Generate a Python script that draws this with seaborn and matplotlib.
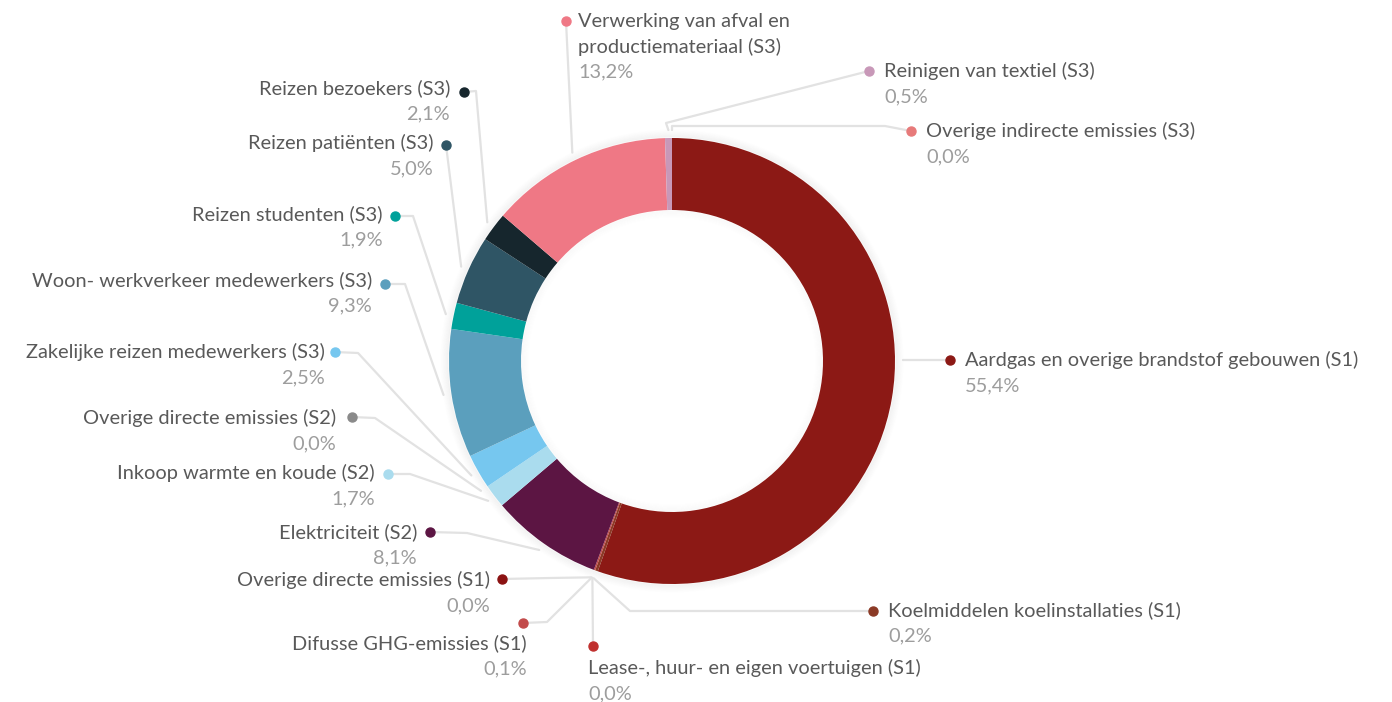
import numpy as np
import matplotlib.pyplot as plt
import seaborn as sns

# data
categories = [
    'Aardgas en overige brandstof gebouwen (S1)',
    'Koelmiddelen koelinstallaties (S1)',
    'Lease-, huur- en eigen voertuigen (S1)',
    'Difusse GHG-emissies (S1)',
    'Overige directe emissies (S1)',
    'Elektriciteit (S2)',
    'Inkoop warmte en koude (S2)',
    'Overige directe emissies (S2)',
    'Zakelijke reizen medewerkers (S3)',
    'Woon- werkverkeer medewerkers (S3)',
    'Reizen studenten (S3)',
    'Reizen patiënten (S3)',
    'Reizen bezoekers (S3)',
    'Verwerking van afval en\nproductiemateriaal (S3)',
    'Reinigen van textiel (S3)',
    'Overige indirecte emissies (S3)',
]
values = [55.4, 0.2, 0.0, 0.1, 0.0, 8.1, 1.7, 0.0, 2.5, 9.3, 1.9, 5.0, 2.1, 13.2, 0.5, 0.0]
colors = ['#8c1915', '#8b3a26', '#c0302e', '#c24a4a', '#8b1212', '#5c1543',
          '#aadcee', '#8a8a8a', '#76c7ef', '#5b9fbd', '#00a19a', '#2f5565',
          '#16262d', '#ef7885', '#c898b8', '#e77a7a']

# label layout (pixel coordinates)
dots = [(950, 360), (873, 611), (593, 646), (523, 623), (502, 579), (430, 532),
        (388, 474), (352, 417), (335, 352), (385, 284), (395, 216), (446, 145),
        (464, 92), (566, 21), (869, 71), (911, 131)]
elbows = [[], [(630, 611)], [], [(547, 622)], [(550, 578)], [(467, 533)],
          [(410, 474)], [(375, 418)], [(358, 353)], [(405, 284)], [(413, 216)], [],
          [(476, 91)], [], [(666, 123)], [(885, 126), (672, 126)]]
text_pos = [(965, 360, 'left'), (888, 610, 'left'), (588, 668, 'left'),
            (527, 643, 'right'), (490, 580, 'right'), (417, 532, 'right'),
            (375, 473, 'right'), (336, 418, 'right'), (325, 352, 'right'),
            (372, 280, 'right'), (383, 214, 'right'), (434, 143, 'right'),
            (450, 88, 'right'), (578, 21, 'left'), (884, 71, 'left'),
            (926, 131, 'left')]

W, H = 1392, 702
cx, cy, R, ring = 672, 361, 223, 72
ra = R + 8
line_h = 25.5

sns.set_theme(style='white')
plt.rcParams['font.family'] = ['Lato', 'DejaVu Sans']

fig = plt.figure(figsize=(W / 100, H / 100), dpi=100)
ax = fig.add_axes([0, 0, 1, 1])

# soft shadow around the ring
for k in range(1, 9):
    a = 0.035 * (1 - k / 9)
    ax.add_patch(plt.Circle((cx, cy), R + k, fill=False, lw=1.2, color='black', alpha=a, zorder=1.5))
    ax.add_patch(plt.Circle((cx, cy), R - ring - k, fill=False, lw=1.2, color='black', alpha=a * 0.5, zorder=1.5))

ax.pie(values, colors=colors, startangle=-90, counterclock=True, radius=R,
       center=(cx, cy), wedgeprops=dict(width=ring, linewidth=0, zorder=2))

total = sum(values)


def anchor(i):
    start = sum(values[:i]) / total * 360
    end = start + values[i] / total * 360
    dx, dy = dots[i][0] - cx, dots[i][1] - cy
    if not elbows[i] and abs(dy) < ra:
        xs = cx + np.sign(dx) * np.sqrt(ra ** 2 - dy ** 2)
        phi = np.degrees(np.arctan2(xs - cx, -dy)) % 360
        if start <= phi <= end:
            return xs, dots[i][1]
    phi = np.radians((start + end) / 2)
    return cx + ra * np.sin(phi), cy - ra * np.cos(phi)


for i, name in enumerate(categories):
    pts = [dots[i]] + elbows[i] + [anchor(i)]
    xs, ys = zip(*pts)
    ax.plot(xs, ys, color='#e2e2e2', lw=1.6, zorder=1, solid_joinstyle='round')
    ax.plot(*dots[i], 'o', color=colors[i], ms=6.5, zorder=3)

    tx, ty, ha = text_pos[i]
    lines = name.split('\n')
    for j, ln in enumerate(lines):
        ax.text(tx, ty + j * line_h, ln, ha=ha, va='center', fontsize=14.4, color='#595959')
    pct = f'{values[i]:.1f}'.replace('.', ',') + '%'
    ax.text(tx, ty + len(lines) * line_h, pct, ha=ha, va='center', fontsize=14.4,
            color='#9d9d9d')

ax.set_xlim(0, W)
ax.set_ylim(H, 0)
ax.set_aspect('equal')
ax.axis('off')

plt.savefig('out.png', dpi=100)
